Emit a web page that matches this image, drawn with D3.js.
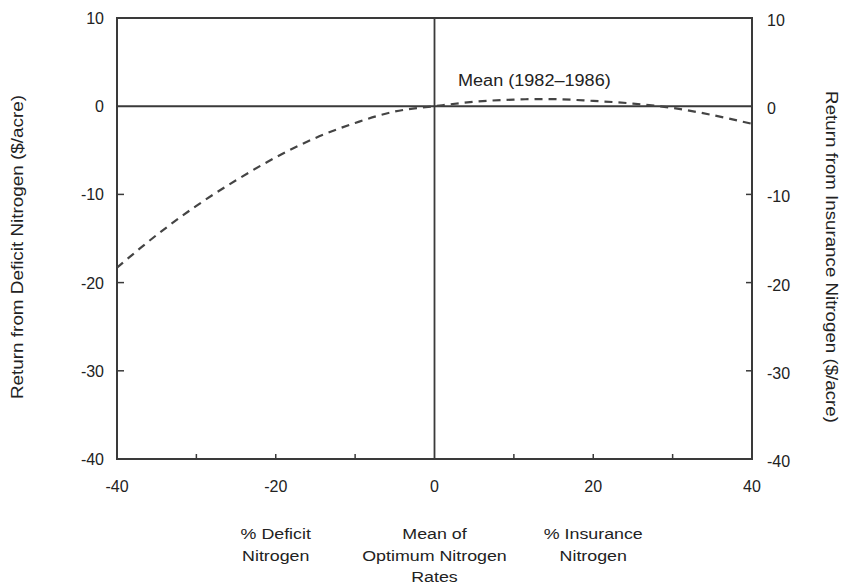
<!DOCTYPE html>
<html>
<head>
<meta charset="utf-8">
<script src="https://cdn.jsdelivr.net/npm/d3@7"></script>
<style>
  html, body { margin: 0; padding: 0; background: #fff; }
  svg text { font-family: "Liberation Sans", Arial, sans-serif; fill: #222; }
</style>
</head>
<body>
<svg id="chart" width="856" height="587"></svg>
<script>
// Percent deviation from the mean optimum nitrogen rate
const nitrogenPct = [-40, -35, -30, -25, -20, -15, -10, -5, 0, 5, 10, 15, 20, 25, 30, 35, 40];
// Mean return ($/acre), 1982–1986
const meanReturn = [-18.3, -14.6, -11.3, -8.4, -5.8, -3.6, -1.9, -0.6, 0, 0.5, 0.75, 0.8, 0.6, 0.3, -0.2, -1.0, -2.0];

const xTicks = [-40, -20, 0, 20, 40];
const xMinorTicks = [-30, -20, -10, 10, 20, 30];
const yTicks = [10, 0, -10, -20, -30, -40];
const yInnerTicks = [-10, -20, -30];

const svg = d3.select("#chart");
const plotLeft = 117, plotRight = 752, plotTop = 18, plotBottom = 459;

const x = d3.scaleLinear().domain([-40, 40]).range([plotLeft, plotRight]);
const y = d3.scaleLinear().domain([-40, 10]).range([plotBottom, plotTop]);

const ink = "#3a3a3a";

// Frame
svg.append("rect")
  .attr("x", plotLeft).attr("y", plotTop)
  .attr("width", plotRight - plotLeft).attr("height", plotBottom - plotTop)
  .attr("fill", "none").attr("stroke", ink).attr("stroke-width", 2);

// Zero reference lines
svg.append("line")
  .attr("x1", plotLeft).attr("x2", plotRight)
  .attr("y1", y(0)).attr("y2", y(0))
  .attr("stroke", ink).attr("stroke-width", 2);
svg.append("line")
  .attr("x1", x(0)).attr("x2", x(0))
  .attr("y1", plotTop).attr("y2", plotBottom)
  .attr("stroke", ink).attr("stroke-width", 1.8);

// Inward tick marks
svg.selectAll(".xtick").data(xMinorTicks).join("line")
  .attr("x1", d => x(d)).attr("x2", d => x(d))
  .attr("y1", plotBottom).attr("y2", plotBottom - 5)
  .attr("stroke", ink).attr("stroke-width", 1.5);
svg.selectAll(".ytickL").data(yInnerTicks).join("line")
  .attr("x1", plotLeft).attr("x2", plotLeft + 7)
  .attr("y1", d => y(d)).attr("y2", d => y(d))
  .attr("stroke", ink).attr("stroke-width", 1.5);
svg.selectAll(".ytickR").data(yInnerTicks).join("line")
  .attr("x1", plotRight).attr("x2", plotRight - 6)
  .attr("y1", d => y(d)).attr("y2", d => y(d))
  .attr("stroke", ink).attr("stroke-width", 1.5);

// Tick labels
const fmt = d => d < 0 ? "-" + Math.abs(d) : String(d);
svg.selectAll(".xlab").data(xTicks).join("text")
  .attr("x", d => x(d)).attr("y", 492)
  .attr("text-anchor", "middle").attr("font-size", 16)
  .text(fmt);
svg.selectAll(".ylabL").data(yTicks).join("text")
  .attr("x", 104).attr("y", d => y(d) + 6)
  .attr("text-anchor", "end").attr("font-size", 16)
  .text(fmt);
svg.selectAll(".ylabR").data(yTicks).join("text")
  .attr("x", 767).attr("y", d => y(d) + 8)
  .attr("text-anchor", "start").attr("font-size", 16)
  .text(fmt);

// Return curve
const line = d3.line()
  .x((d, i) => x(nitrogenPct[i]))
  .y(d => y(d))
  .curve(d3.curveCatmullRom);
svg.append("path")
  .datum(meanReturn)
  .attr("d", line)
  .attr("fill", "none")
  .attr("stroke", "#444")
  .attr("stroke-width", 2.2)
  .attr("stroke-dasharray", "8,6");

svg.append("text")
  .attr("transform", "translate(458,86) scale(1.13,1)")
  .attr("font-size", 16)
  .text("Mean (1982–1986)");

// Axis titles
svg.append("text")
  .attr("transform", "translate(23,247) rotate(-90) scale(1.18,1)")
  .attr("text-anchor", "middle").attr("font-size", 16)
  .text("Return from Deficit Nitrogen ($/acre)");
svg.append("text")
  .attr("transform", "translate(826,257) rotate(90) scale(1.17,1)")
  .attr("text-anchor", "middle").attr("font-size", 16)
  .text("Return from Insurance Nitrogen ($/acre)");

// Category captions under the x axis
const captions = [
  { cx: -20, lines: ["% Deficit", "Nitrogen"] },
  { cx: 0, lines: ["Mean of", "Optimum Nitrogen", "Rates"] },
  { cx: 20, lines: ["% Insurance", "Nitrogen"] }
];
captions.forEach(c => {
  c.lines.forEach((s, i) => {
    svg.append("text")
      .attr("transform", `translate(${x(c.cx)},${539 + i * 21.5}) scale(1.15,1)`)
      .attr("text-anchor", "middle").attr("font-size", 15.5)
      .text(s);
  });
});
</script>
</body>
</html>
